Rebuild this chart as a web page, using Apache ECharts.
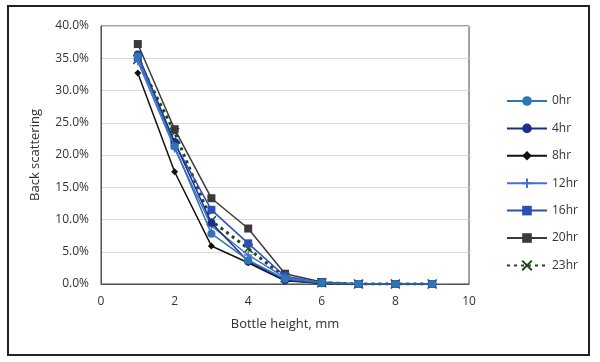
<!DOCTYPE html>
<html><head><meta charset="utf-8">
<script src="https://cdn.jsdelivr.net/npm/echarts@6/dist/echarts.min.js"></script>
<style>html,body{margin:0;padding:0;background:#fff}#c{width:600px;height:362px}
#frame{position:absolute;left:7px;top:5px;width:583px;height:351px;border:2px solid #222;box-sizing:border-box;pointer-events:none}</style>
</head><body><div id="c"></div><div id="frame"></div>
<script>
var heights = [1, 2, 3, 4, 5, 6, 7, 8, 9];
var seriesNames = ['0hr', '4hr', '8hr', '12hr', '16hr', '20hr', '23hr'];
var v0hr  = [35.3, 21.3, 7.8, 3.7, 0.8, 0.2, 0, 0, 0];
var v4hr  = [35.6, 22.0, 9.5, 3.5, 0.6, 0.1, 0, 0, 0];
var v8hr  = [32.7, 17.4, 5.9, 3.3, 0.5, 0.1, 0, 0, 0];
var v12hr = [34.5, 21.0, 9.0, 4.5, 1.0, 0.2, 0, 0, 0];
var v16hr = [35.0, 21.8, 11.5, 6.3, 1.2, 0.2, 0, 0, 0];
var v20hr = [37.2, 24.0, 13.3, 8.6, 1.6, 0.3, 0, 0, 0];
var v23hr = [34.8, 23.5, 9.8, 5.5, 1.0, 0.2, 0, 0, 0];
var yTicks = [0, 5, 10, 15, 20, 25, 30, 35, 40];

var vals = [v0hr, v4hr, v8hr, v12hr, v16hr, v20hr, v23hr];
var colors = ['#2E75B6', '#1C2E8C', '#111111', '#4A6FD0', '#2A50B8', '#3A3A3A', '#1E4A1A'];
var symbols = ['circle', 'circle', 'diamond', 'path://M0,5L10,5M5,0L5,10', 'rect', 'rect', 'path://M0,0L10,10M10,0L0,10'];
var sizes = [8, 8, 7, 8, 8, 8, 9];
var font = 'Open Sans, Noto Sans, sans-serif';

var series = seriesNames.map(function (n, i) {
  var s = {
    name: n, type: 'line',
    data: heights.map(function (h, k) { return [h, vals[i][k]]; }),
    symbol: symbols[i], symbolSize: sizes[i],
    lineStyle: { color: colors[i], width: i === 6 ? 3 : 1.5 },
    itemStyle: { color: colors[i], borderColor: colors[i], borderWidth: (i === 3 || i === 6) ? 1.5 : 0 },
    z: 10 - i
  };
  if (i === 6) s.lineStyle.type = [3, 4];
  return s;
});

var chart = echarts.init(document.getElementById('c'), null, { renderer: 'canvas' });
chart.setOption({
  animation: false,
  backgroundColor: '#fff',
  textStyle: { fontFamily: font },
  grid: { left: 101, right: 131, top: 26, bottom: 78, show: true, borderColor: '#444', borderWidth: 1 },
  xAxis: {
    type: 'value', min: 0, max: 10, interval: 2,
    name: 'Bottle height, mm', nameLocation: 'middle', nameGap: 34,
    nameTextStyle: { fontSize: 13, color: '#333', fontFamily: font },
    axisLine: { show: true, lineStyle: { color: '#555' } },
    axisTick: { show: false },
    splitLine: { show: false },
    axisLabel: { fontSize: 12, color: '#333', margin: 12, fontFamily: font }
  },
  yAxis: {
    type: 'value', min: 0, max: 40, interval: 5,
    name: 'Back scattering', nameLocation: 'middle', nameGap: 59, nameRotate: 90,
    nameTextStyle: { fontSize: 13, color: '#333', fontFamily: font },
    axisLine: { show: true, lineStyle: { color: '#555' } },
    axisTick: { show: false },
    splitLine: { show: true, lineStyle: { color: '#d9d9d9' } },
    axisLabel: { fontSize: 12, color: '#333', margin: 12, fontFamily: font,
      formatter: function (v) { return yTicks.indexOf(v) >= 0 ? v.toFixed(1) + '%' : ''; } }
  },
  legend: {
    orient: 'vertical', left: 501, top: 90,
    itemWidth: 40, itemHeight: 12, itemGap: 15.4,
    textStyle: { fontSize: 12, color: '#333', fontFamily: font },
    data: seriesNames
  },
  series: series
});
</script>
</body></html>
